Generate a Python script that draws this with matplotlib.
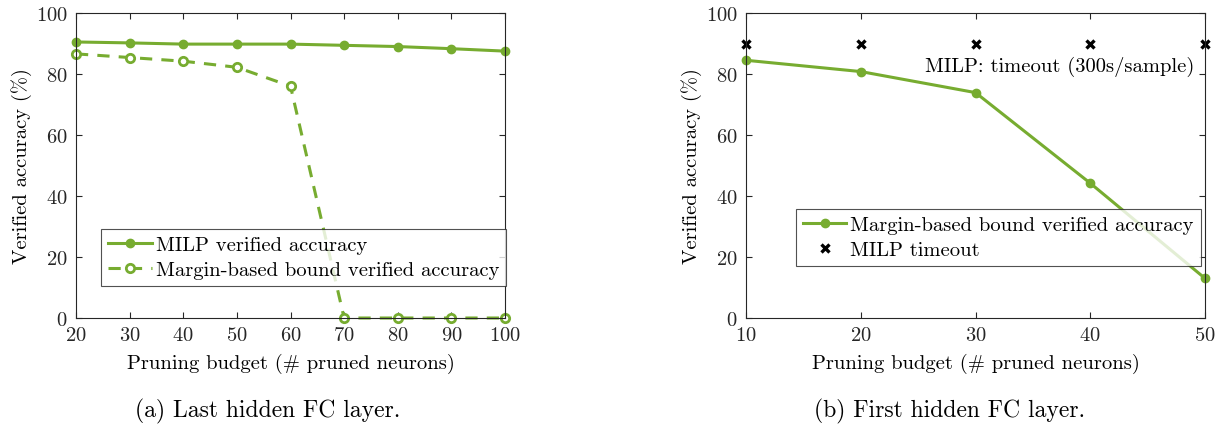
import numpy as np
import matplotlib
matplotlib.use("Agg")
import matplotlib.pyplot as plt

plt.rcParams['font.family'] = 'cmr10'
plt.rcParams['mathtext.fontset'] = 'cm'
plt.rcParams['axes.formatter.use_mathtext'] = True
plt.rcParams['axes.unicode_minus'] = False

green = '#77AC30'

# (a) last hidden FC layer
budget_a = [20, 30, 40, 50, 60, 70, 80, 90, 100]
milp_a = [90.5, 90.2, 89.8, 89.8, 89.8, 89.4, 89.0, 88.3, 87.5]
margin_a = [86.6, 85.4, 84.2, 82.2, 76.0, 0.0, 0.0, 0.0, 0.0]

# (b) first hidden FC layer
budget_b = [10, 20, 30, 40, 50]
margin_b = [84.5, 80.8, 73.9, 44.2, 13.0]
timeout_b = [90, 90, 90, 90, 90]

fig = plt.figure(figsize=(12.25, 4.31), dpi=100)
ax1 = fig.add_axes([76/1225, 1-319/431, 429/1225, 305/431])
ax2 = fig.add_axes([746/1225, 1-319/431, 459/1225, 305/431])

fs = 14.8

ax1.plot(budget_a, milp_a, '-', color=green, lw=2.2, marker='o', ms=6,
         label='MILP verified accuracy', clip_on=False)
ax1.plot(budget_a, margin_a, '--', color=green, lw=2.2, marker='o', ms=6,
         mfc='white', mew=2, dashes=(4, 3),
         label='Margin-based bound verified accuracy', clip_on=False)
ax1.set_xlim(20, 100)
ax1.set_xticks(budget_a)

ax2.plot(budget_b, margin_b, '-', color=green, lw=2.2, marker='o', ms=6,
         label='Margin-based bound verified accuracy', clip_on=False)
ax2.plot(budget_b, timeout_b, 'x', color='black', ms=6, mew=2.4,
         ls='none', label='MILP timeout', clip_on=False)
ax2.text(49.1, 82.5, 'MILP: timeout (300s/sample)', fontsize=fs,
         ha='right', va='center')
ax2.set_xlim(10, 50)
ax2.set_xticks(budget_b)

for ax in (ax1, ax2):
    ax.set_ylim(0, 100)
    ax.set_yticks([0, 20, 40, 60, 80, 100])
    ax.tick_params(direction='in', top=True, right=True, labelsize=fs,
                   length=4, width=0.8, colors='#262626', pad=6)
    for s in ax.spines.values():
        s.set_color('#262626')
        s.set_linewidth(0.8)
    ax.set_xlabel('Pruning budget (# pruned neurons)', fontsize=fs, labelpad=6)
    ax.set_ylabel('Verified accuracy (%)', fontsize=fs, labelpad=3)

leg1 = ax1.legend(loc='lower right', bbox_to_anchor=(1.003, 0.105), fontsize=fs,
                  frameon=True, fancybox=False, edgecolor='#262626',
                  handlelength=2.1, borderpad=0.35, labelspacing=0.3,
                  handletextpad=0.2, borderaxespad=0)
leg1.get_frame().set_linewidth(0.8)
leg2 = ax2.legend(loc='lower right', bbox_to_anchor=(0.991, 0.17), fontsize=fs,
                  frameon=True, fancybox=False, edgecolor='#262626',
                  handlelength=2.1, borderpad=0.35, labelspacing=0.3,
                  handletextpad=0.2, borderaxespad=0)
leg2.get_frame().set_linewidth(0.8)

fig.text(268/1225, 1-411/431, '(a) Last hidden FC layer.', fontsize=17,
         ha='center', va='center')
fig.text(950/1225, 1-411/431, '(b) First hidden FC layer.', fontsize=17,
         ha='center', va='center')

fig.savefig('out.png', dpi=100)
